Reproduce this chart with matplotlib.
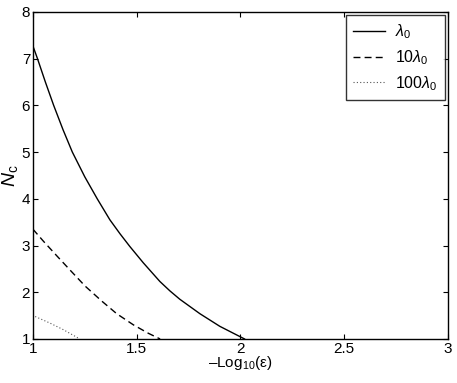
import matplotlib.pyplot as plt

plt.rcParams['font.family'] = ['Liberation Sans', 'DejaVu Sans']
plt.rcParams['mathtext.fontset'] = 'custom'
plt.rcParams['mathtext.rm'] = 'Liberation Sans'
plt.rcParams['mathtext.it'] = 'Liberation Sans:italic'
plt.rcParams['mathtext.sf'] = 'Liberation Sans'

# data
x_l1 = [1.0, 1.022, 1.06, 1.10, 1.145, 1.19, 1.25, 1.31, 1.371, 1.42, 1.467,
        1.532, 1.612, 1.66, 1.708, 1.805, 1.901, 1.998, 2.02]
y_l1 = [7.27, 7.0, 6.5, 6.0, 5.48, 5.0, 4.47, 4.0, 3.55, 3.25, 2.98,
        2.63, 2.23, 2.03, 1.85, 1.54, 1.27, 1.05, 1.0]
x_l10 = [1.0, 1.051, 1.115, 1.18, 1.252, 1.332, 1.404, 1.485, 1.557, 1.613]
y_l10 = [3.35, 3.09, 2.78, 2.47, 2.13, 1.81, 1.54, 1.30, 1.12, 1.0]
x_l100 = [1.011, 1.082, 1.146, 1.218, 1.225]
y_l100 = [1.48, 1.34, 1.20, 1.02, 1.0]
labels = [r'$\lambda_0$', r'10$\lambda_0$', r'100$\lambda_0$']

fig = plt.figure(figsize=(4.57, 3.83), dpi=100)
ax = fig.add_axes([0.072, 0.115, 0.908, 0.854])

ax.plot(x_l1, y_l1, color='black', ls='-', lw=1.0, label=labels[0])
ax.plot(x_l10, y_l10, color='black', ls=(0, (5, 3)), lw=1.0, label=labels[1])
ax.plot(x_l100, y_l100, color='#555555', ls=(0, (1, 2)), lw=0.8, label=labels[2])

ax.set_xlim(1, 3)
ax.set_ylim(1, 8)
ax.set_xticks([1, 1.5, 2, 2.5, 3])
ax.set_xticklabels(['1', '1.5', '2', '2.5', '3'])
ax.set_yticks(range(1, 9))
ax.tick_params(direction='in', top=True, right=True, labelsize=11, length=3.5, pad=2)
for s in ax.spines.values():
    s.set_linewidth(1.0)

ax.set_xlabel('–Log$_{10}$(ε)', fontsize=11, labelpad=-1)
ax.set_ylabel(r'$N_{\mathrm{c}}$', fontsize=14, labelpad=1)

leg = ax.legend(loc='upper right', fontsize=11.5, frameon=True, fancybox=False,
                edgecolor='black', borderaxespad=0.2, handlelength=2.0,
                handletextpad=0.65, labelspacing=0.45, borderpad=0.45)
leg.get_frame().set_linewidth(1.0)

plt.savefig('out.png', dpi=100)
